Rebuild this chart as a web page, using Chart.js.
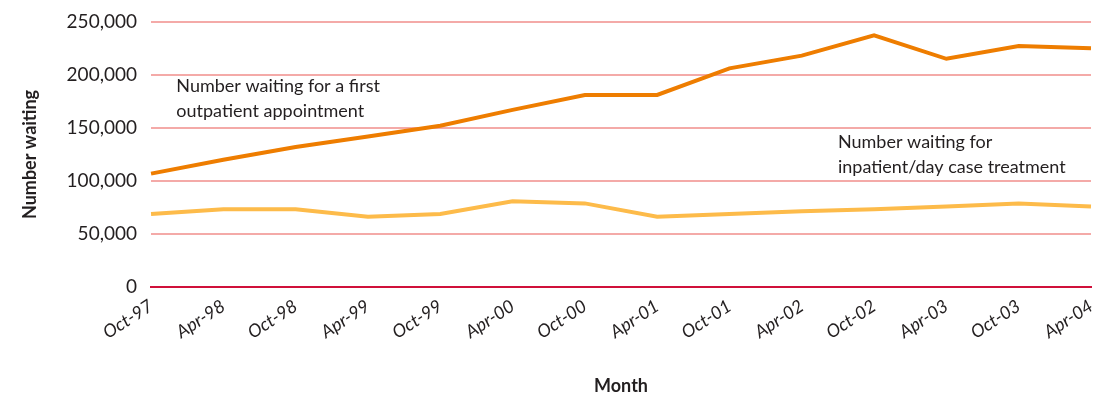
<!DOCTYPE html>
<html>
<head>
<meta charset="utf-8">
<script src="https://cdn.jsdelivr.net/npm/chart.js@4/dist/chart.umd.min.js"></script>
<style>
  html, body { margin: 0; padding: 0; background: #fff; }
  #wrap { width: 1113px; height: 401px; }
</style>
</head>
<body>
<div id="wrap"><canvas id="chart"></canvas></div>
<script>
  // six-monthly snapshots
  let meses = ['Oct-97', 'Apr-98', 'Oct-98', 'Apr-99', 'Oct-99', 'Apr-00', 'Oct-00',
               'Apr-01', 'Oct-01', 'Apr-02', 'Oct-02', 'Apr-03', 'Oct-03', 'Apr-04'];

  let consultas = [107000, 120000, 132000, 142000, 152000, 167000, 181000,
                   181000, 206000, 218000, 237000, 215000, 227000, 225000];

  let ingresos = [69000, 73500, 73500, 66500, 69000, 81000, 79000,
                  66500, 69000, 71500, 73500, 76000, 79000, 76000];

  let ticksY = [0, 50000, 100000, 150000, 200000, 250000];

  // text notes placed at [category index, value]
  let notas = [
    { lineas: ['Number waiting for a first', 'outpatient appointment'], en: [0.35, 189000] },
    { lineas: ['Number waiting for', 'inpatient/day case treatment'], en: [9.5, 137000] }
  ];

  const fuente = 'Lato, "Open Sans", sans-serif';

  const notasPlugin = {
    id: 'notas',
    afterDatasetsDraw(chart) {
      const c = chart.ctx;
      const x = chart.scales.x, y = chart.scales.y;
      c.save();
      c.font = '18px ' + fuente;
      c.fillStyle = '#231f20';
      c.textBaseline = 'middle';
      c.textAlign = 'left';
      notas.forEach(n => {
        const px = x.getPixelForValue(n.en[0]);
        const py = y.getPixelForValue(n.en[1]);
        n.lineas.forEach((t, i) => c.fillText(t, px, py + i * 25));
      });
      c.restore();
    }
  };

  let datos = {
    labels: meses,
    datasets: [
      {
        label: 'Number waiting for a first outpatient appointment',
        data: consultas,
        borderColor: '#ee7d00',
        borderWidth: 4,
        pointRadius: 0,
        tension: 0,
      },
      {
        label: 'Number waiting for inpatient/day case treatment',
        data: ingresos,
        borderColor: '#fdbb4a',
        borderWidth: 4,
        pointRadius: 0,
        tension: 0,
      }
    ]
  };

  let opciones = {
    responsive: true,
    maintainAspectRatio: false,
    animation: false,
    layout: { padding: { top: 1, right: 22, left: 15, bottom: 0 } },
    scales: {
      x: {
        offset: false,
        grid: { display: false, drawTicks: false },
        border: { color: '#d0103a', width: 2 },
        ticks: {
          color: '#231f20',
          maxRotation: 33,
          minRotation: 33,
          padding: 8,
          autoSkip: false,
          font: { family: fuente, size: 18, style: 'italic' }
        },
        title: {
          display: true,
          text: 'Month',
          color: '#231f20',
          padding: { top: 24 },
          font: { family: fuente, size: 18, weight: 'bold' }
        }
      },
      y: {
        min: 0,
        max: 250000,
        afterBuildTicks: ax => { ax.ticks = ticksY.map(v => ({ value: v })); },
        grid: {
          color: ctx => ctx.tick && ctx.tick.value === 0 ? '#d0103a' : '#f4aaa8',
          lineWidth: 2,
          drawTicks: false
        },
        border: { display: false },
        ticks: {
          color: '#231f20',
          padding: 14,
          font: { family: fuente, size: 19, lineHeight: 0.8 },
          callback: v => v.toLocaleString('en-GB')
        },
        title: {
          display: true,
          text: 'Number waiting',
          color: '#231f20',
          padding: { bottom: 12 },
          font: { family: fuente, size: 18, weight: 'bold' }
        }
      }
    },
    plugins: {
      legend: { display: false },
      title: { display: false },
      tooltip: { enabled: false }
    }
  };

  let ctx = document.getElementById('chart').getContext('2d');
  let grafica = new Chart(ctx, {
    type: 'line',
    data: datos,
    options: opciones,
    plugins: [notasPlugin]
  });
</script>
</body>
</html>
